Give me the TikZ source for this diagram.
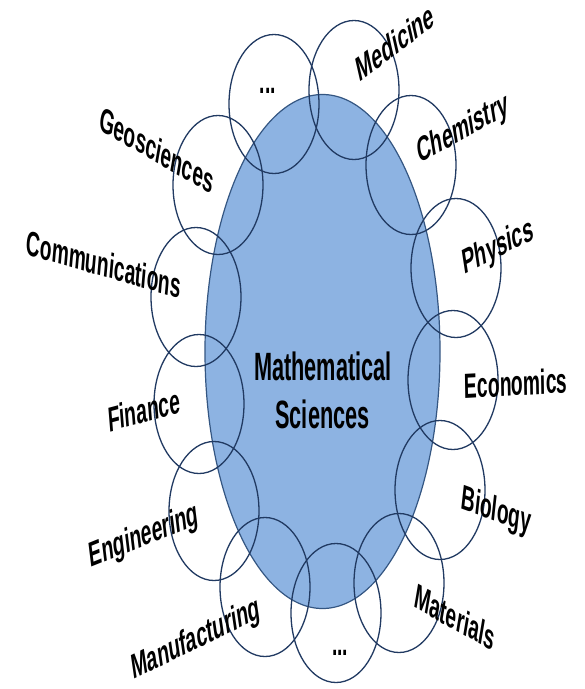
\documentclass[tikz,border=0pt]{standalone}
\usepackage{fontspec}
\setmainfont{Liberation Sans}
\definecolor{efill}{RGB}{141,179,226}
\definecolor{edraw}{RGB}{52,86,130}
\definecolor{cdraw}{RGB}{33,58,98}
\begin{document}
\begin{tikzpicture}[x=1pt,y=-1pt,
  bubble/.style={draw=cdraw, line width=1.3pt},
  lbl/.style={font=\bfseries\fontsize{35}{35}\selectfont, inner sep=0pt, transform shape},
  ctr/.style={font=\bfseries\fontsize{39.5}{39.5}\selectfont, inner sep=0pt, transform shape, anchor=base}]
\useasboundingbox (0,0) rectangle (585,689);
\fill[white] (0,0) rectangle (585,689);
% central ellipse
\draw[fill=efill, draw=edraw, line width=1.2pt] (322.5,351.5) ellipse [x radius=117.5, y radius=257];
% surrounding circles (drawn squashed)
\foreach \cx/\cy in {274/104, 354/90, 411/165, 456/268, 453/380, 440/490, 399/583, 336/613, 265/587, 214/511, 199/404, 196/297, 218/185}
  \draw[bubble] (\cx,\cy) ellipse [x radius=45, y radius=69.5];
% texts, set rotated then squashed horizontally
\def\kt{0.55}
\begin{scope}[xscale=\kt]
\node[ctr] (math) at ({323/\kt},380) {Mathematical};
\node[ctr] (sci) at ({322.5/\kt},428) {Sciences};
\node[lbl, rotate=22.5] (med) at ({395/\kt},42) {Medicine};
\node[lbl, rotate=17] (chem) at ({463/\kt},130) {Chemistry};
\node[lbl, rotate=15.7] (phys) at ({498/\kt},248) {Physics};
\node[lbl, rotate=1.7] (eco) at ({516/\kt},383) {Economics};
\node[lbl, rotate=-11.3] (bio) at ({496/\kt},512) {Biology};
\node[lbl, rotate=-17] (mat) at ({455/\kt},617) {Materials};
\node[lbl] (dotb) at ({340/\kt},653) {...};
\node[lbl, rotate=15] (manu) at ({196/\kt},640) {Manufacturing};
\node[lbl, rotate=12.5] (eng) at ({144/\kt},537) {Engineering};
\node[lbl, rotate=8.4] (fin) at ({144/\kt},410) {Finance};
\node[lbl, rotate=-9] (comm) at ({104/\kt},264) {Communications};
\node[lbl, rotate=-17.6] (geo) at ({157/\kt},150) {Geosciences};
\node[lbl] (dott) at ({268/\kt},91) {...};
\end{scope}
\end{tikzpicture}
\end{document}
